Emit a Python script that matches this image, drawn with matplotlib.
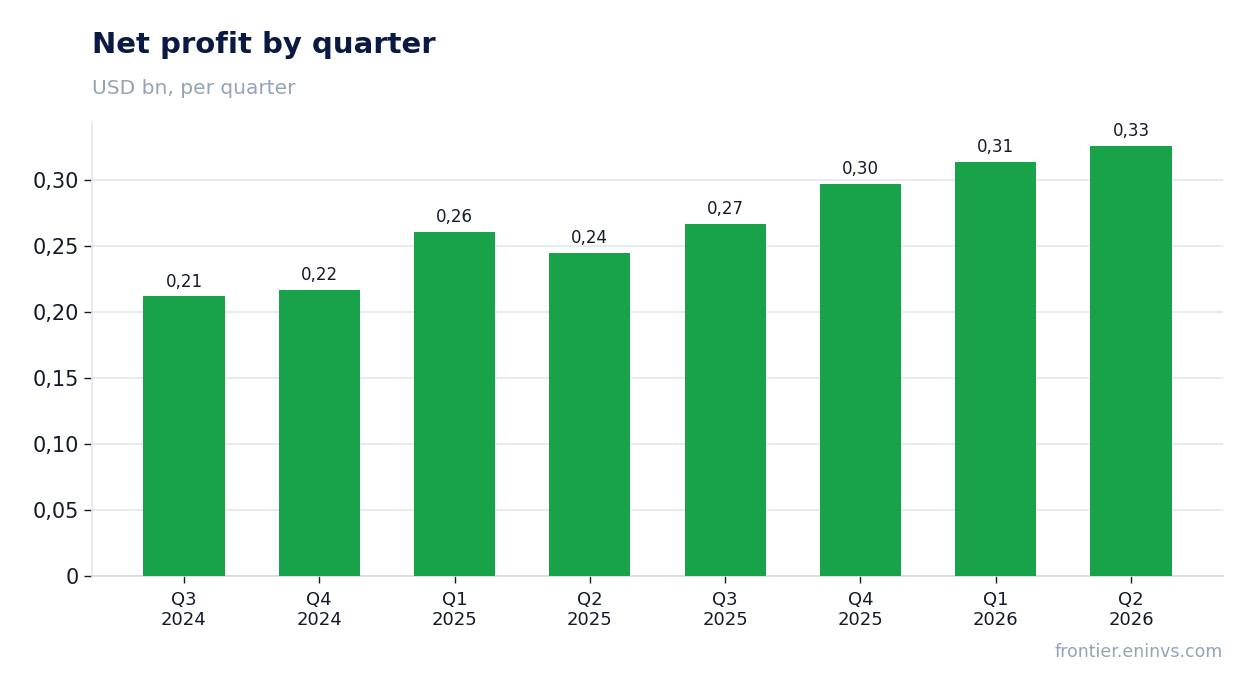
import matplotlib
matplotlib.use("Agg")
import matplotlib.pyplot as plt
from matplotlib.ticker import FuncFormatter, MultipleLocator

quarters = ["Q3\n2024", "Q4\n2024", "Q1\n2025", "Q2\n2025",
            "Q3\n2025", "Q4\n2025", "Q1\n2026", "Q2\n2026"]
profit = [0.212, 0.217, 0.261, 0.245, 0.267, 0.297, 0.314, 0.326]

GREEN = "#18a34a"
DARK = "#0b1a42"
TEXT = "#141a2b"
MUTED = "#94a3b8"
GRID = "#e5e8ee"


def comma_fmt(v, pos=None):
    if abs(v) < 1e-9:
        return "0"
    return f"{v:.2f}".replace(".", ",")


fig = plt.figure(figsize=(12.54, 6.93), dpi=100)
ax = fig.add_axes([92 / 1254, 1 - 576 / 693, (1223 - 92) / 1254, (576 - 122) / 693])

x = list(range(len(quarters)))
bars = ax.bar(x, profit, width=0.6, color=GREEN, zorder=3)

for b, v in zip(bars, profit):
    ax.annotate(comma_fmt(round(v, 2)), (b.get_x() + b.get_width() / 2, v),
                xytext=(0, 4), textcoords="offset points",
                ha="center", va="bottom", fontsize=12, color=TEXT)

ax.set_xlim(-0.68, 7.68)
ax.set_ylim(0, 0.344)
ax.set_xticks(x)
ax.set_xticklabels(quarters, fontsize=13, color=TEXT, linespacing=1.1)
ax.yaxis.set_major_locator(MultipleLocator(0.05))
ax.yaxis.set_major_formatter(FuncFormatter(comma_fmt))
ax.tick_params(axis="y", labelsize=15, labelcolor=TEXT, color=TEXT, length=6, width=1)
ax.tick_params(axis="x", color=TEXT, length=5, width=1, pad=6)

ax.grid(axis="y", color=GRID, linewidth=1.3, zorder=0)
ax.set_axisbelow(True)
for s in ("top", "right"):
    ax.spines[s].set_visible(False)
ax.spines["left"].set_color("#e5e8ee")
ax.spines["bottom"].set_color("#d4d8e0")
ax.spines["left"].set_linewidth(1.2)
ax.spines["bottom"].set_linewidth(1.2)

fig.text(92 / 1254, 1 - 45 / 693, "Net profit by quarter", fontsize=21,
         fontweight="bold", color=DARK, ha="left", va="center")
fig.text(92 / 1254, 1 - 88 / 693, "USD bn, per quarter", fontsize=14.5,
         color=MUTED, ha="left", va="center")
fig.text(1223 / 1254, 1 - 652 / 693, "frontier.eninvs.com", fontsize=12.5,
         color=MUTED, ha="right", va="center")

fig.savefig("out.png", dpi=100)
